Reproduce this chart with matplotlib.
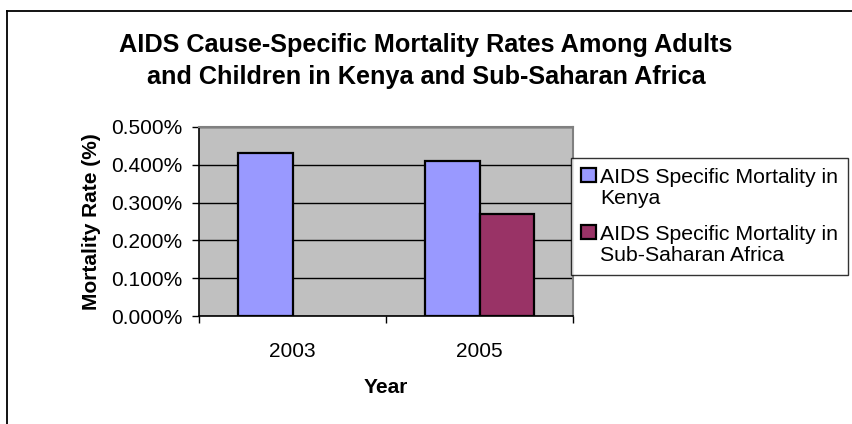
import matplotlib
matplotlib.use('Agg')
import matplotlib.pyplot as plt
import numpy as np
from matplotlib.lines import Line2D
from matplotlib.patches import Patch, Rectangle
from matplotlib.legend_handler import HandlerPatch

plt.rcParams['font.family'] = ['Liberation Sans', 'DejaVu Sans']

# data
years = ['2003', '2005']
kenya = [0.0043, 0.0041]
ssa = [np.nan, 0.0027]
labels = ['AIDS Specific Mortality in\nKenya',
          'AIDS Specific Mortality in\nSub-Saharan Africa']
colors = ['#9999FF', '#993366']

W, H = 852, 424
fig = plt.figure(figsize=(W / 100, H / 100), dpi=100)
ax = fig.add_axes([199 / W, 1 - 316 / H, 374 / W, 189 / H])

x = np.arange(len(years))
bw = 0.289
ax.bar(x - bw / 2, kenya, bw, color=colors[0], edgecolor='black', linewidth=1.6, zorder=3)
ax.bar(x + bw / 2, ssa, bw, color=colors[1], edgecolor='black', linewidth=1.6, zorder=3)

ax.set_facecolor('#C0C0C0')
ax.set_xlim(-0.5, 1.5)
ax.set_ylim(0, 0.005)
ax.set_yticks(np.arange(0, 0.0051, 0.001))
ax.set_yticklabels(['%.3f%%' % (v * 100) for v in np.arange(0, 0.0051, 0.001)])
ax.yaxis.grid(True, color='black', linewidth=1)
ax.set_axisbelow(True)

ax.set_xticks(x)
ax.set_xticklabels(years)
ax.set_xticks([-0.5, 0.5, 1.5], minor=True)
ax.tick_params(axis='x', which='major', length=0, pad=19, labelsize=15)
ax.tick_params(axis='x', which='minor', length=5, width=1, direction='out')
ax.tick_params(axis='y', length=5, width=1, direction='out', labelsize=15, pad=7)

for s in ['top', 'right']:
    ax.spines[s].set_color('#808080')
    ax.spines[s].set_linewidth(1.5)
for s in ['left', 'bottom']:
    ax.spines[s].set_color('black')
    ax.spines[s].set_linewidth(1.2)

ax.set_xlabel('Year', fontsize=15, fontweight='bold', labelpad=12)
ax.set_ylabel('Mortality Rate (%)', fontsize=15, fontweight='bold', labelpad=7)

fig.text(0.5, 1 - 61 / H, 'AIDS Cause-Specific Mortality Rates Among Adults\nand Children in Kenya and Sub-Saharan Africa',
         ha='center', va='center', fontsize=18.2, fontweight='bold', linespacing=1.4)

# outer chart border (runs off the right and bottom edge)
fig.add_artist(Line2D([6.5 / W, 6.5 / W], [0, 1 - 10.5 / H], color='black', linewidth=1.3, transform=fig.transFigure))
fig.add_artist(Line2D([6.5 / W, 1], [1 - 10.5 / H, 1 - 10.5 / H], color='black', linewidth=1.3, transform=fig.transFigure))


class TopHandler(HandlerPatch):
    # put the swatch beside the first line of a two-line label
    def create_artists(self, legend, orig_handle, xdescent, ydescent, width, height, fontsize, trans):
        p = Rectangle((-xdescent, -ydescent + 0.6 * fontsize), width, height,
                      facecolor=orig_handle.get_facecolor(), edgecolor='black', linewidth=1.6)
        p.set_transform(trans)
        return [p]


handles = [Patch(facecolor=c, edgecolor='black') for c in colors]
leg = fig.legend(handles, labels, loc='upper left', bbox_to_anchor=(571 / W, 1 - 158 / H),
                 fontsize=15.3, frameon=True, fancybox=False, handlelength=0.72, handleheight=0.62,
                 handletextpad=0.2, borderpad=0.45, labelspacing=0.8, borderaxespad=0,
                 handler_map={Patch: TopHandler()})
leg.get_frame().set_edgecolor('black')
leg.get_frame().set_linewidth(1)
for t in leg.get_texts():
    t.set_linespacing(1.15)

fig.savefig('out.png', dpi=100)
